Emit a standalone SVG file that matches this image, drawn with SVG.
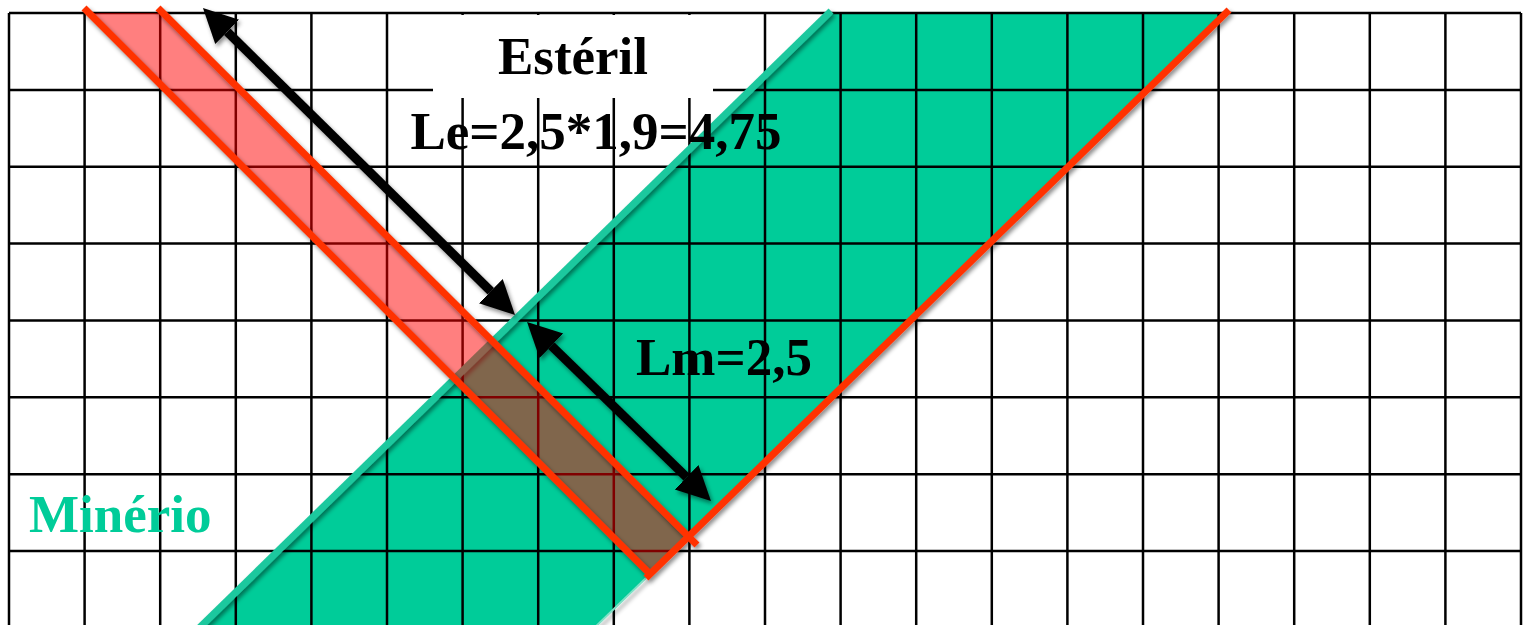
<svg xmlns="http://www.w3.org/2000/svg" width="1525" height="625" viewBox="0 0 1525 625">
<style>
.grid line{stroke:#000;stroke-width:2.5}
.red{stroke:#FF3300;stroke-width:7;fill:none;stroke-linecap:butt}
.arr{stroke:#000;stroke-width:9;fill:none}
.t{font-family:"Liberation Serif","Times New Roman",serif;font-weight:bold;font-size:53px;fill:#000}
</style>
<defs>
<filter id="sh" x="-10%" y="-10%" width="120%" height="120%">
<feDropShadow dx="2" dy="3" stdDeviation="2" flood-color="#000" flood-opacity="0.45"/>
</filter>
<marker id="ah" markerUnits="userSpaceOnUse" markerWidth="40" markerHeight="40" viewBox="0 -20 40 40" refX="0" refY="0" orient="auto-start-reverse">
<path d="M0,-17 L34,0 L0,17 z" fill="#000"/>
</marker>
</defs>
<rect width="1525" height="625" fill="#fff"/>
<g id="minerio-body">
<polygon points="832,13 1225,13 593,630 195,630" fill="#00CC99"/>
</g>
<g id="grid" class="grid">
<line x1="9" y1="13" x2="9" y2="625"/>
<line x1="84.6" y1="13" x2="84.6" y2="625"/>
<line x1="160.2" y1="13" x2="160.2" y2="625"/>
<line x1="235.8" y1="13" x2="235.8" y2="625"/>
<line x1="311.4" y1="13" x2="311.4" y2="625"/>
<line x1="387" y1="13" x2="387" y2="625"/>
<line x1="462.6" y1="13" x2="462.6" y2="625"/>
<line x1="538.2" y1="13" x2="538.2" y2="625"/>
<line x1="613.8" y1="13" x2="613.8" y2="625"/>
<line x1="689.4" y1="13" x2="689.4" y2="625"/>
<line x1="765" y1="13" x2="765" y2="625"/>
<line x1="840.6" y1="13" x2="840.6" y2="625"/>
<line x1="916.2" y1="13" x2="916.2" y2="625"/>
<line x1="991.8" y1="13" x2="991.8" y2="625"/>
<line x1="1067.4" y1="13" x2="1067.4" y2="625"/>
<line x1="1143" y1="13" x2="1143" y2="625"/>
<line x1="1218.6" y1="13" x2="1218.6" y2="625"/>
<line x1="1294.2" y1="13" x2="1294.2" y2="625"/>
<line x1="1369.8" y1="13" x2="1369.8" y2="625"/>
<line x1="1445.4" y1="13" x2="1445.4" y2="625"/>
<line x1="1521" y1="13" x2="1521" y2="625"/>
<line x1="9" y1="13" x2="1521" y2="13"/>
<line x1="9" y1="89.9" x2="1521" y2="89.9"/>
<line x1="9" y1="166.7" x2="1521" y2="166.7"/>
<line x1="9" y1="243.6" x2="1521" y2="243.6"/>
<line x1="9" y1="320.4" x2="1521" y2="320.4"/>
<line x1="9" y1="397.3" x2="1521" y2="397.3"/>
<line x1="9" y1="474.2" x2="1521" y2="474.2"/>
<line x1="9" y1="551" x2="1521" y2="551"/>
</g>
<g id="minerio-edge" filter="url(#sh)">
<line x1="831" y1="11" x2="195" y2="632" stroke="#1FC89E" stroke-width="7"/>
<line x1="646" y1="578" x2="590" y2="632" stroke="#7FE0C6" stroke-width="2"/>
</g>
<rect x="433" y="15" width="280" height="83" fill="#fff"/>
<g id="esteril-band">
<polygon points="89,13 163,13 687,537 650,574" fill="#FF0000" fill-opacity="0.5"/>
<g filter="url(#sh)">
<line class="red" x1="84" y1="8" x2="651" y2="575"/>
<line class="red" x1="158" y1="8" x2="697" y2="545"/>
<line class="red" x1="1229" y1="10" x2="646" y2="578"/>
</g>
</g>
<g id="connectors" filter="url(#sh)">
<line class="arr" x1="227.2" y1="31.8" x2="490.8" y2="291.2" marker-start="url(#ah)" marker-end="url(#ah)"/>
<line class="arr" x1="551.4" y1="345.7" x2="686.6" y2="477.3" marker-start="url(#ah)" marker-end="url(#ah)"/>
</g>
<g id="labels">
<text class="t" x="573" y="74" text-anchor="middle" font-size="52">Estéril</text>
<text class="t" x="596" y="149" text-anchor="middle">Le=2,5*1,9=4,75</text>
<text class="t" x="636" y="375">Lm=2,5</text>
<text class="t" x="29" y="532" style="fill:#00CC99">Minério</text>
</g>
</svg>
